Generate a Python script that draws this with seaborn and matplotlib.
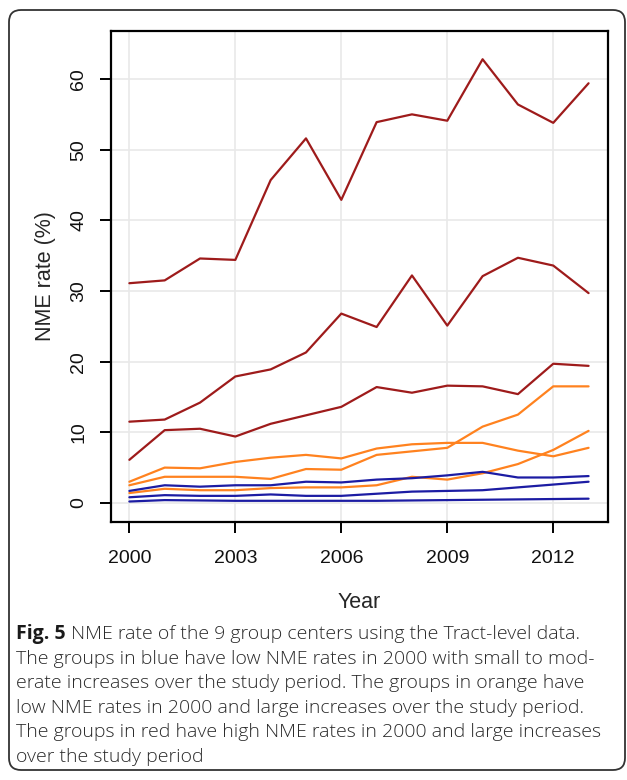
import numpy as np
import pandas as pd
import seaborn as sns
import matplotlib.pyplot as plt
from matplotlib.patches import FancyBboxPatch

# NME rate (%) of the 9 group centers
years = list(range(2000, 2014))
red_1 = [31.1, 31.5, 34.6, 34.4, 45.7, 51.6, 42.9, 53.9, 55.0, 54.1, 62.8, 56.4, 53.8, 59.4]
red_2 = [11.5, 11.8, 14.2, 17.9, 18.9, 21.3, 26.8, 24.9, 32.2, 25.1, 32.1, 34.7, 33.6, 29.7]
red_3 = [6.1, 10.3, 10.5, 9.4, 11.2, 12.4, 13.6, 16.4, 15.6, 16.6, 16.5, 15.4, 19.7, 19.4]
orange_1 = [3.0, 5.0, 4.9, 5.8, 6.4, 6.8, 6.3, 7.7, 8.3, 8.5, 8.5, 7.4, 6.6, 7.8]
orange_2 = [2.5, 3.7, 3.7, 3.7, 3.4, 4.8, 4.7, 6.8, 7.3, 7.8, 10.8, 12.5, 16.5, 16.5]
orange_3 = [1.4, 2.0, 1.8, 1.8, 2.1, 2.2, 2.2, 2.5, 3.7, 3.3, 4.2, 5.5, 7.5, 10.2]
blue_1 = [1.7, 2.5, 2.3, 2.5, 2.5, 3.0, 2.9, 3.3, 3.5, 3.9, 4.4, 3.6, 3.6, 3.8]
blue_2 = [0.8, 1.1, 1.0, 1.0, 1.2, 1.0, 1.0, 1.3, 1.6, 1.7, 1.8, 2.2, 2.6, 3.0]
blue_3 = [0.2, 0.4, 0.35, 0.3, 0.3, 0.3, 0.3, 0.3, 0.35, 0.4, 0.45, 0.5, 0.55, 0.6]

series = {'r1': red_1, 'r2': red_2, 'r3': red_3,
          'o1': orange_1, 'o2': orange_2, 'o3': orange_3,
          'b1': blue_1, 'b2': blue_2, 'b3': blue_3}
red, orange, blue = '#9e1b1b', '#ff821f', '#1c1ca3'
palette = {'r1': red, 'r2': red, 'r3': red,
           'o1': orange, 'o2': orange, 'o3': orange,
           'b1': blue, 'b2': blue, 'b3': blue}

caption = ['The groups in blue have low NME rates in 2000 with small to mod-',
           'erate increases over the study period. The groups in orange have',
           'low NME rates in 2000 and large increases over the study period.',
           'The groups in red have high NME rates in 2000 and large increases',
           'over the study period']

rows = []
for name, vals in series.items():
    for yr, v in zip(years, vals):
        rows.append({'year': yr, 'rate': v, 'group': name})
df = pd.DataFrame(rows)

sns.set_style('white')
plt.rcParams['font.family'] = ['Liberation Sans', 'DejaVu Sans']

fig = plt.figure(figsize=(6.27, 7.80), dpi=100)
ax = fig.add_axes([111/627, 1 - 522/780, (608 - 111)/627, (522 - 31)/780])

sns.lineplot(data=df, x='year', y='rate', hue='group', palette=palette,
             linewidth=1.6, legend=False, ax=ax, zorder=3)

ax.set_xlim(1999.48, 2013.55)
ax.set_ylim(-2.7, 66.8)
ax.set_xticks([2000, 2003, 2006, 2009, 2012])
ax.set_yticks([0, 10, 20, 30, 40, 50, 60])
ax.grid(True, color='#e9e9e9', linewidth=1.2, zorder=0)
ax.set_axisbelow(True)
for s in ax.spines.values():
    s.set_color('black')
    s.set_linewidth(1.6)
ax.tick_params(axis='both', direction='out', length=8, width=1.4, color='black',
               labelsize=14, pad=9, labelcolor='#111111')
ax.tick_params(axis='x', bottom=True, pad=12)
ax.tick_params(axis='y', left=True)
for lab in ax.get_yticklabels():
    lab.set_rotation(90)
    lab.set_va('center')
ax.set_xlabel('Year', fontsize=15.5, labelpad=18)
ax.set_ylabel('NME rate (%)', fontsize=15.5, labelpad=10)

# rounded frame around figure + caption
frame = FancyBboxPatch((9, 780 - 770), 616, 760, boxstyle='round,pad=0,rounding_size=12',
                       transform=None, fill=False, edgecolor='#333333', linewidth=1.3)
fig.patches.append(frame)

cap_font = ['Open Sans', 'DejaVu Sans']
y0 = 780 - 634
step = 24.6
bold = fig.text(16/627, y0/780, 'Fig. 5', fontsize=14, fontweight='bold',
                family=cap_font, va='center', color='#1a1a1a')
fig.canvas.draw()
bb = bold.get_window_extent()
fig.text((bb.x1 + 5)/627, y0/780, 'NME rate of the 9 group centers using the Tract-level data.',
         fontsize=14, family=cap_font, va='center', color='#2a2a2a', fontweight='light')
for i, line in enumerate(caption):
    fig.text(16/627, (y0 - step*(i + 1))/780, line, fontsize=14, family=cap_font,
             va='center', color='#2a2a2a', fontweight='light')

plt.savefig('out.png', dpi=100)
